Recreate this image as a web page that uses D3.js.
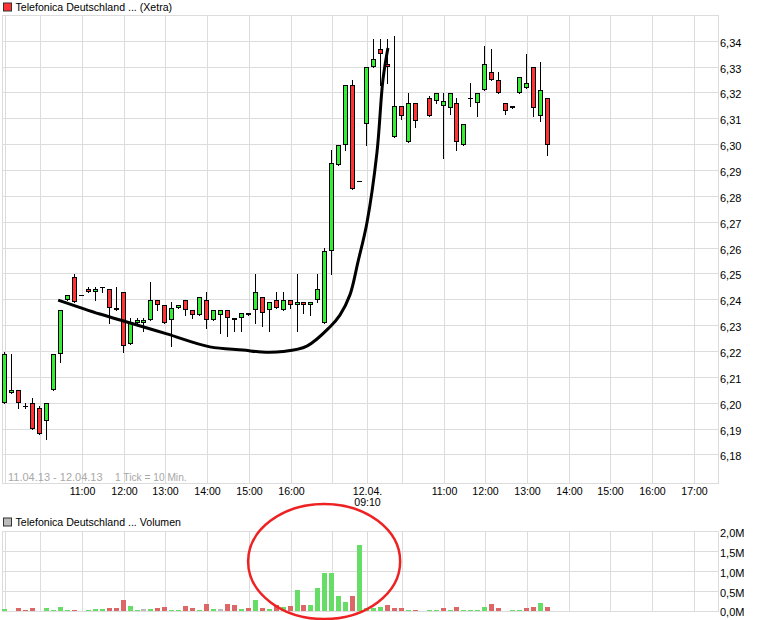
<!DOCTYPE html>
<html><head><meta charset="utf-8">
<script src="https://cdn.jsdelivr.net/npm/d3@7/dist/d3.min.js"></script>
<style>body{margin:0;background:#fff}svg{display:block}text{font-family:"Liberation Sans",Arial,sans-serif}</style>
</head><body><svg id="c" width="760" height="620"></svg>
<script>
// ---- data ----
const slots = [0,1,2,3,4,5,6,7,8,9,10,11,12,13,14,15,16,17,18,19,20,21,22,23,24,25,26,27,28,29,30,31,32,33,34,35,36,37,38,39,40,41,42,43,44,45,46,47,48,49,50,51,52,53,54,55,56,57,58,59,61,62,63,64,65,66,67,68,69,70,71,72,73,74,75,76,77,78];
const open  = [6.200,6.204,6.205,6.199,6.200,6.198,6.193,6.205,6.219,6.240,6.249,6.242,6.244,6.243,6.245,6.244,6.237,6.243,6.223,6.231,6.231,6.232,6.240,6.238,6.232,6.237,6.240,6.236,6.234,6.240,6.232,6.234,6.236,6.233,6.233,6.235,6.236,6.241,6.236,6.240,6.236,6.240,6.238,6.239,6.238,6.240,6.231,6.259,6.292,6.300,6.323,6.286,6.308,6.330,6.337,6.331,6.303,6.315,6.301,6.316,6.318,6.317,6.315,6.314,6.316,6.300,6.318,6.316,6.321,6.328,6.325,6.316,6.314,6.320,6.322,6.330,6.311,6.318];
const high  = [6.220,6.219,6.205,6.200,6.202,6.199,6.200,6.219,6.236,6.242,6.250,6.242,6.245,6.245,6.245,6.244,6.245,6.243,6.233,6.233,6.233,6.247,6.240,6.238,6.239,6.238,6.240,6.236,6.241,6.243,6.236,6.236,6.236,6.233,6.235,6.235,6.250,6.241,6.239,6.243,6.243,6.240,6.250,6.239,6.239,6.250,6.260,6.298,6.300,6.323,6.325,6.286,6.330,6.341,6.341,6.341,6.342,6.315,6.320,6.316,6.319,6.320,6.320,6.320,6.318,6.308,6.324,6.320,6.338,6.337,6.328,6.316,6.315,6.326,6.335,6.330,6.332,6.318];
const low   = [6.200,6.204,6.198,6.198,6.190,6.188,6.186,6.205,6.216,6.240,6.239,6.242,6.243,6.240,6.243,6.231,6.236,6.220,6.223,6.231,6.228,6.232,6.236,6.231,6.222,6.237,6.234,6.233,6.234,6.229,6.232,6.227,6.226,6.228,6.228,6.234,6.231,6.230,6.228,6.237,6.236,6.237,6.228,6.235,6.234,6.239,6.231,6.250,6.292,6.298,6.283,6.286,6.300,6.330,6.323,6.324,6.303,6.310,6.301,6.307,6.311,6.316,6.295,6.312,6.298,6.300,6.315,6.311,6.321,6.325,6.320,6.312,6.314,6.320,6.322,6.311,6.309,6.296];
const close = [6.219,6.205,6.200,6.199,6.190,6.188,6.200,6.219,6.236,6.242,6.239,6.242,6.243,6.244,6.245,6.237,6.236,6.222,6.231,6.232,6.232,6.240,6.238,6.231,6.237,6.238,6.236,6.234,6.241,6.232,6.236,6.236,6.233,6.232,6.235,6.234,6.243,6.235,6.239,6.237,6.240,6.238,6.239,6.238,6.239,6.244,6.259,6.293,6.300,6.323,6.283,6.286,6.330,6.333,6.335,6.330,6.315,6.311,6.316,6.309,6.311,6.320,6.317,6.320,6.301,6.308,6.318,6.320,6.331,6.325,6.320,6.313,6.315,6.326,6.324,6.314,6.321,6.300];
const volume = [0.04,0,0.07,0.025,0.07,0,0.07,0.025,0.09,0.025,0.025,0,0.025,0.04,0.04,0.07,0.07,0.27,0.12,0.025,0.04,0.04,0.07,0.09,0.025,0.025,0.12,0.07,0.025,0.17,0.04,0.04,0.17,0.14,0.04,0.07,0.27,0.07,0.04,0.14,0.09,0.12,0.52,0.14,0.14,0.57,0.95,0.95,0.37,0.22,0.37,1.65,0.07,0.07,0.09,0.14,0.07,0.07,0.025,0.025,0.025,0.025,0.08,0.025,0.10,0.025,0.025,0.025,0.09,0.175,0.07,0.01,0.025,0.025,0.07,0.09,0.20,0.10];
const priceTicks = [6.18,6.19,6.20,6.21,6.22,6.23,6.24,6.25,6.26,6.27,6.28,6.29,6.30,6.31,6.32,6.33,6.34];
const volTicks = [0,0.5,1.0,1.5,2.0];
const gridSlots = [0,5,11,17,23,29,35,41,47,52,57,63,69,75,81,87,93,99];
const tickSlots = [11,17,23,29,35,41,52,63,69,75,81,87,93,99];
const tickLabels = ["11:00","12:00","13:00","14:00","15:00","16:00","12.04.|09:10","11:00","12:00","13:00","14:00","15:00","16:00","17:00"];
const curveSlots  = [7.66,13.66,17.54,23.29,29.47,34.22,36.95,39.97,43.42,46.73,48.17,49.61,50.76,52.05,53.49,54.35,55.07];
const curvePrices = [6.2399,6.2345,6.2314,6.2268,6.2218,6.2206,6.2198,6.2200,6.2221,6.2295,6.2341,6.2419,6.2546,6.2697,6.2968,6.3250,6.3374];
const ellipseC = [45.9, 1.245], ellipseR = [10.93, 1.447];
const titleMain = "Telefonica Deutschland ... (Xetra)";
const titleVol = "Telefonica Deutschland ... Volumen";
const footLeft = "11.04.13 - 12.04.13", footRight = "1 Tick = 10 Min.";

// ---- layout ----
const L = 2, R = 718, PT = 15, PB = 483, VT = 531, VB = 611;
const GRID = "#dcdcdc", GREEN = "#33ee33", RED = "#ff3333";
const VGREEN = "#66dd66", VRED = "#dd6666", VGRAY = "#bbbbbb";

const svg = d3.select("#c");
const xS = d3.scaleLinear().domain([0, 99]).range([5.9, 5.9 + 99 * 6.955]);
const yS = d3.scaleLinear().domain([6.18, 6.34]).range([454.96, 41.2]);
const vS = d3.scaleLinear().domain([0, 2]).range([611, 531.5]);
const gx = s => Math.floor(xS(s)) + 0.5;
const cx = s => Math.floor(xS(s)) - 1;

const fmtP = d => d3.format(".2f")(d).replace(".", ",");
const fmtV = d => d3.format(".1f")(d).replace(".", ",") + "M";

// titles
function title(y, fill, text) {
  svg.append("rect").attr("x", 3.5).attr("y", y + 0.5).attr("width", 8).attr("height", 8)
    .attr("fill", fill).attr("stroke", "#333");
  svg.append("text").attr("x", 15.5).attr("y", y + 8).attr("font-size", 10.6).text(text);
}
title(2.5, RED, titleMain);
title(517.5, VGRAY, titleVol);

// grids
function grid(top, bot, yTicks, ys) {
  const g = svg.append("g").attr("stroke", GRID).attr("shape-rendering", "crispEdges");
  g.selectAll("line.v").data(gridSlots).join("line")
    .attr("x1", gx).attr("x2", gx).attr("y1", top).attr("y2", bot);
  g.selectAll("line.h").data(yTicks).join("line")
    .attr("x1", L).attr("x2", R).attr("y1", d => Math.floor(ys(d)) + 0.5).attr("y2", d => Math.floor(ys(d)) + 0.5);
  g.append("rect").attr("x", L + 0.5).attr("y", top + 0.5).attr("width", R - L).attr("height", bot - top).attr("fill", "none");
}
grid(PT, PB, priceTicks, yS);
grid(VT, VB, volTicks, vS);

// y labels
svg.append("g").selectAll("text").data(priceTicks).join("text")
  .attr("x", 720).attr("y", d => Math.floor(yS(d)) + 5.6).attr("font-size", 11).text(fmtP);
svg.append("g").selectAll("text").data(volTicks).join("text")
  .attr("x", 720).attr("y", d => Math.min(Math.floor(vS(d)) + 5.6, 615.5)).attr("font-size", 11).text(fmtV);

// x labels
const xl = svg.append("g").attr("font-size", 10.6).attr("text-anchor", "middle");
tickSlots.forEach((s, k) => {
  tickLabels[k].split("|").forEach((t, j) => {
    xl.append("text").attr("x", gx(s)).attr("y", 494.7 + j * 11.5).text(t);
  });
});

// footnote
svg.append("text").attr("x", 8).attr("y", 480.6).attr("font-size", 11).attr("fill", "#a8a8a8").text(footLeft);
svg.append("text").attr("x", 115).attr("y", 480.6).attr("font-size", 10.2).attr("fill", "#a8a8a8").text(footRight);

// candles
const data = slots.map((s, i) => ({s, o: open[i], h: high[i], l: low[i], c: close[i], v: volume[i],
  prev: i > 0 ? close[i - 1] : open[i]}));
const cg = svg.append("g").attr("shape-rendering", "crispEdges");
data.forEach(d => {
  const c = cx(d.s);
  cg.append("line").attr("x1", c + 0.5).attr("x2", c + 0.5)
    .attr("y1", Math.round(yS(d.h))).attr("y2", Math.round(yS(d.l)) + 1).attr("stroke", "#000");
  const top = Math.round(yS(Math.max(d.o, d.c))), bot = Math.round(yS(Math.min(d.o, d.c)));
  if (d.o === d.c) {
    cg.append("line").attr("x1", c - 2).attr("x2", c + 3).attr("y1", top + 0.5).attr("y2", top + 0.5).attr("stroke", "#000");
  } else {
    cg.append("rect").attr("x", c - 1.5).attr("y", top + 0.5).attr("width", 4)
      .attr("height", Math.max(bot - top - 1, 1))
      .attr("fill", d.c > d.o ? GREEN : RED).attr("stroke", "#000");
  }
});

// annotation curve
const pts = curveSlots.map((s, i) => [s, curvePrices[i]]);
svg.append("path").datum(pts)
  .attr("d", d3.line().x(d => xS(d[0]) - 1).y(d => yS(d[1])).curve(d3.curveCatmullRom))
  .attr("fill", "none").attr("stroke", "#000").attr("stroke-width", 3);

// volume bars
svg.append("g").attr("shape-rendering", "crispEdges").selectAll("rect")
  .data(data.filter(d => d.v > 0)).join("rect")
  .attr("x", d => cx(d.s) - 2).attr("width", 5)
  .attr("y", d => Math.round(vS(d.v))).attr("height", d => 611 - Math.round(vS(d.v)))
  .attr("fill", d => d.c > d.prev ? VGREEN : (d.c < d.prev ? VRED : VGRAY));

// annotation ellipse
svg.append("ellipse")
  .attr("cx", xS(ellipseC[0]) - 1).attr("cy", vS(ellipseC[1]))
  .attr("rx", xS(ellipseC[0] + ellipseR[0]) - xS(ellipseC[0])).attr("ry", vS(0) - vS(ellipseR[1]))
  .attr("fill", "none").attr("stroke", "#ee2222").attr("stroke-width", 2.5);
</script></body></html>
